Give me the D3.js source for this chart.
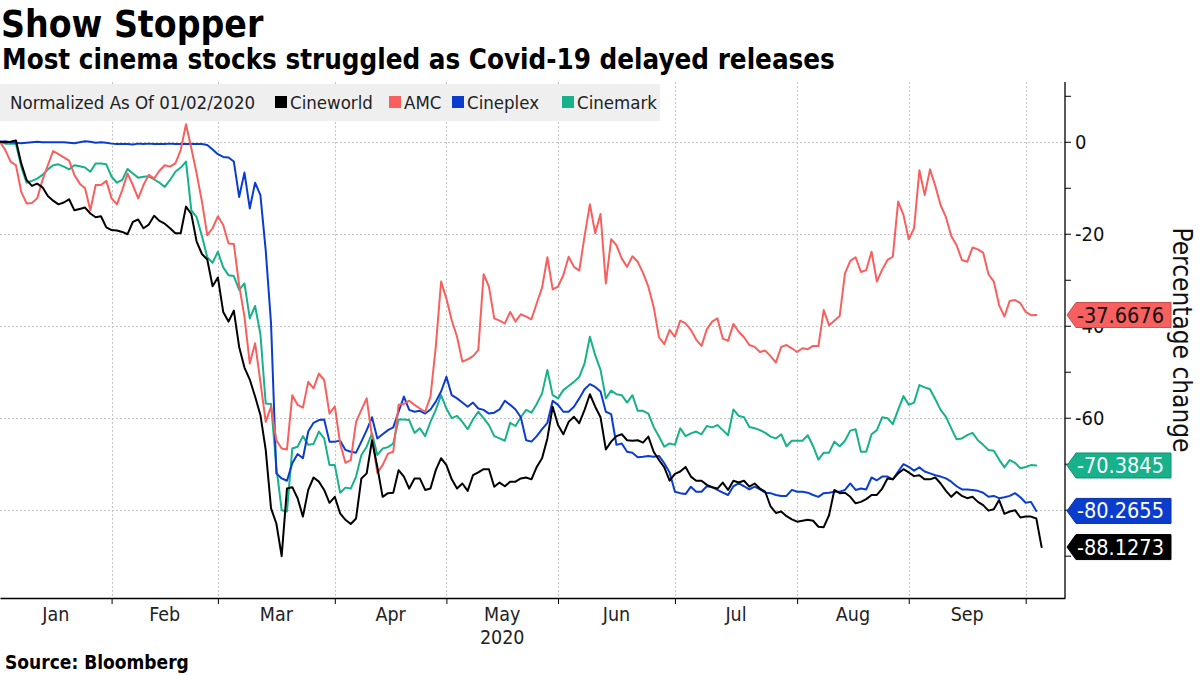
<!DOCTYPE html>
<html><head><meta charset="utf-8">
<script src="https://cdn.jsdelivr.net/npm/d3@7"></script>
<style>
body{margin:0;background:#fff}
svg{display:block}
text{font-family:"DejaVu Sans Condensed","DejaVu Sans",sans-serif}
</style>
</head><body>
<svg id="chart" width="1200" height="675"></svg>
<script>
// ---------------- DATA ----------------
const startDate = "2020-01-02";
const endDate = "2020-10-05";
const closedDays = ["2020-04-10"]; // days when every market was shut
const seriesNames = ["Cineworld", "AMC", "Cineplex", "Cinemark"];
const monthLabels = ["Jan","Feb","Mar","Apr","May","Jun","Jul","Aug","Sep"];
const yearLabel = "2020";
const yTickValues = [10,0,-10,-20,-30,-40,-50,-60,-70,-80,-90];
const yGridValues = [0,-20,-40,-60,-80];
const yLabelValues = [0,-20,-40,-60]; // -80 sits fully under the Cineplex tag in the reference

const cineworld = [0,-0.1,0,0.3,-4.7,-8.3,-9.6,-9.1,-9.9,-11.8,-12.8,-13.6,-13.2,-12.5,-14.9,-14.6,-14.3,-15.6,-16.4,-16.2,-18.6,-19.2,-19.3,-19.6,-20.1,-17.4,-16.9,-18.8,-18.0,-16.1,-17.2,-17.8,-18.8,
 -19.9,-19.9,-14.1,-15.7,-21.7,-24.4,-25.6,-31.4,-29.5,-37.0,-39.1,-36.7,-44.6,-49.1,-51.7,-55.4,-59.4,-67.0,-79.7,-83.0,-90.1,-75.4,-75.1,-77.5,-81.5,-75.7,-73.0,-73.9,-75.7,-78.5,-77.2,-80.8,-82.2,
 -83.1,-81.9,-73.2,-72.1,-64.9,-70.7,-77.2,-76.4,-76.3,-71.4,-72.8,-75.4,-73.2,-73.2,-75.7,-75.4,-71.4,-68.8,-70.3,-73.4,-75.4,-74.3,-75.9,-72.5,-71.9,-71.2,-71.2,-75.0,-74.1,-74.9,-73.9,-73.9,-73.2,
 -73.0,-73.4,-70.7,-68.8,-64.5,-57.6,-61.6,-63.6,-60.9,-59.8,-61.2,-58.3,-54.9,-57.6,-59.9,-66.9,-65.2,-64.0,-63.6,-64.9,-65.0,-64.9,-65.4,-64.1,-67.4,-69.2,-70.8,-73.7,-72.2,-71.7,-70.7,-72.8,-73.7,
 -73.7,-74.6,-75.1,-75.4,-74.1,-75.7,-73.7,-74.1,-73.7,-75.0,-74.3,-75.4,-76.1,-79.3,-80.7,-80.4,-81.4,-82.1,-82.6,-82.4,-82.2,-82.4,-83.7,-83.8,-81.2,-75.7,-76.4,-76.3,-77.2,-78.6,-78.3,-77.7,-76.8,
 -76.8,-75.4,-73.2,-73.4,-72.1,-71.2,-71.9,-72.7,-72.5,-73.4,-73.4,-73.0,-74.3,-75.9,-77.2,-76.1,-77.0,-77.5,-77.2,-78.3,-79.0,-80.2,-79.9,-77.9,-80.9,-80.4,-80.1,-81.7,-81.5,-81.5,-81.9,-88.1273];

const amc = [0,-1.8,-4.3,-5.1,-10.9,-13.4,-13.3,-12.3,-8.3,-5.1,-2.0,-2.7,-3.4,-4.1,-7.2,-9.1,-10.1,-14.9,-9.4,-9.4,-8.5,-12.3,-13.6,-10.5,-6.9,-9.4,-12.3,-9.4,-7.2,-8.0,-6.3,-5.1,-5.4,
 -4.7,-1.8,3.8,-1.4,-6.9,-13.0,-20.3,-18.8,-16.2,-18.1,-22.1,-22.2,-31.2,-38.0,-48.2,-43.8,-52.2,-60.9,-57.6,-64.9,-66.7,-66.9,-55.1,-57.2,-57.8,-52.2,-53.6,-50.4,-51.8,-59.1,-57.5,-65.6,-69.8,
 -69.2,-60.9,-58.3,-55.8,-64.1,-72.0,-70.3,-67.8,-67.4,-57.2,-57.0,-56.3,-57.2,-58.0,-58.7,-55.4,-44.6,-30.4,-34.1,-38.8,-42.4,-47.8,-47.3,-46.6,-45.3,-28.8,-31.5,-38.4,-38.9,-39.5,-37.0,-39.1,-37.5,
 -38.0,-38.6,-35.1,-31.7,-25.1,-32.1,-31.5,-29.0,-25.0,-27.2,-28.0,-20.5,-13.6,-19.9,-15.7,-30.8,-21.2,-22.5,-25.4,-27.2,-24.9,-26.1,-28.5,-31.5,-35.9,-42.5,-44.0,-40.9,-42.4,-38.9,-39.5,-40.9,-43.0,
 -44.4,-40.8,-39.1,-38.4,-42.8,-43.3,-39.6,-41.3,-42.5,-44.2,-44.6,-45.7,-45.4,-46.6,-48.0,-44.6,-44.2,-44.9,-45.7,-44.9,-45.1,-44.4,-44.4,-36.6,-39.9,-38.9,-37.9,-28.6,-25.9,-25.1,-28.3,-27.9,-23.9,
 -30.4,-27.8,-25.7,-25.0,-13.0,-15.9,-21.2,-18.8,-6.2,-11.6,-6.0,-9.6,-13.8,-16.4,-20.5,-22.5,-25.7,-26.1,-23.0,-23.4,-24.1,-28.8,-30.4,-35.5,-38.0,-34.6,-34.4,-35.1,-37.0,-37.7,-37.6676];

const cineplex = [0,0.1,-0.1,-0.2,-0.3,-0.2,-0.1,0,-0.1,-0.1,-0.1,-0.1,-0.1,-0.2,-0.3,-0.1,0.1,0,-0.2,-0.1,-0.2,-0.4,-0.5,-0.5,-0.5,-0.6,-0.4,-0.5,-0.4,-0.5,-0.5,-0.5,-0.4,
 -0.5,-0.5,-0.5,-0.5,-0.5,-0.5,-0.7,-1.7,-2.7,-3.3,-3.4,-4.3,-12.0,-6.7,-14.5,-8.9,-11.6,-23.6,-39.5,-72.1,-73.2,-73.7,-69.9,-67.9,-68.8,-63.0,-61.1,-60.5,-60.4,-65.2,-65.2,-65.0,-67.0,
 -67.4,-67.6,-65.2,-62.7,-59.9,-64.5,-63.6,-62.7,-62.1,-58.7,-55.4,-58.3,-58.7,-58.5,-59.1,-58.2,-56.5,-54.3,-51.1,-55.1,-55.8,-56.7,-57.6,-56.7,-58.0,-58.3,-59.1,-58.9,-58.2,-56.3,-57.2,-58.2,-59.9,
 -64.9,-65.2,-64.0,-62.5,-61.1,-56.3,-57.2,-58.7,-58.7,-57.6,-55.8,-53.8,-52.7,-53.3,-54.3,-58.7,-59.2,-65.9,-65.6,-67.4,-67.6,-68.6,-68.5,-68.3,-68.5,-68.3,-69.9,-71.9,-76.1,-76.4,-76.6,-75.0,-76.1,
 -76.1,-74.9,-75.1,-75.7,-76.3,-76.8,-74.9,-74.3,-74.9,-75.6,-75.0,-75.6,-76.3,-76.4,-76.8,-77.0,-77.0,-75.7,-76.1,-76.1,-76.3,-76.8,-77.2,-76.4,-76.3,-76.1,-76.1,-75.7,-74.3,-75.7,-75.4,-75.6,-73.0,
 -73.6,-72.8,-72.8,-73.4,-71.7,-70.1,-70.7,-71.5,-70.8,-71.7,-72.1,-72.5,-72.8,-73.2,-73.9,-74.9,-75.6,-75.6,-75.7,-75.9,-76.3,-77.2,-77.0,-77.5,-77.3,-77.0,-76.4,-77.3,-78.5,-78.3,-80.2655];

const cinemark = [0,-0.4,-0.4,-0.5,-5.4,-8.9,-8.5,-8.0,-7.2,-6.0,-5.1,-4.9,-5.4,-6.0,-5.1,-5.3,-5.6,-6.5,-4.7,-4.7,-4.9,-7.6,-8.9,-8.3,-5.9,-6.9,-7.8,-7.6,-7.5,-8.2,-8.9,-9.8,-8.3,
 -6.5,-5.6,-4.3,-14.9,-16.4,-20.5,-25.1,-26.3,-23.9,-27.3,-29.0,-29.2,-32.2,-30.8,-38.4,-35.7,-41.8,-56.9,-57.0,-70.7,-80.1,-80.4,-66.7,-66.3,-64.0,-65.9,-65.7,-63.0,-64.5,-70.3,-70.3,-76.3,-75.2,
 -75.4,-72.8,-68.1,-66.3,-63.4,-68.1,-66.7,-66.4,-65.6,-60.4,-60.4,-60.5,-63.3,-62.3,-64.0,-60.9,-58.3,-55.1,-58.0,-60.1,-59.6,-60.9,-62.5,-60.4,-58.7,-60.1,-61.6,-64.0,-64.5,-65.0,-61.1,-61.8,-59.9,
 -58.3,-58.9,-57.0,-54.7,-49.6,-55.1,-55.8,-54.0,-53.1,-52.2,-51.1,-48.2,-42.4,-46.4,-49.6,-55.8,-54.1,-54.9,-55.1,-56.7,-55.1,-58.5,-58.5,-59.1,-62.0,-64.1,-66.3,-65.6,-65.9,-62.3,-64.0,-63.4,-63.0,
 -63.6,-61.8,-62.1,-61.6,-62.7,-63.8,-58.2,-59.6,-59.9,-62.0,-62.3,-62.7,-63.3,-64.1,-64.5,-63.6,-66.2,-65.0,-65.0,-65.0,-63.8,-66.2,-69.1,-67.6,-67.6,-65.2,-66.2,-65.0,-62.8,-62.5,-67.4,-67.4,-63.6,
 -62.7,-59.9,-60.1,-61.4,-58.3,-55.3,-57.2,-56.7,-52.9,-53.4,-53.8,-56.0,-58.3,-59.8,-62.3,-64.7,-64.5,-63.8,-63.3,-64.9,-65.9,-67.0,-67.2,-69.1,-70.8,-69.2,-69.8,-71.0,-70.7,-70.3,-70.3845];

const seriesValues = [cineworld, amc, cineplex, cinemark];
const seriesColors = ["#000000", "#f7605e", "#0a3dce", "#17b18b"];
const tagTextColors = ["#ffffff", "#111111", "#ffffff", "#ffffff"];

// ---------------- CALENDAR (trading days) ----------------
const parse = d3.utcParse("%Y-%m-%d"), fmt = d3.utcFormat("%Y-%m-%d");
const dates = d3.utcDay.range(parse(startDate), d3.utcDay.offset(parse(endDate), 1))
  .filter(d => d.getUTCDay() !== 0 && d.getUTCDay() !== 6 && !closedDays.includes(fmt(d)));
const monthEnds = [];
for (let i = 0; i < dates.length - 1; i++) if (dates[i].getUTCMonth() !== dates[i+1].getUTCMonth()) monthEnds.push(i);

// ---------------- LAYOUT ----------------
const plotLeft = 0, plotRight = 1065, plotTop = 82, plotBottom = 598;
const svg = d3.select("#chart");

const x = d3.scaleLinear().domain([0, 200.4]).range([plotLeft, plotRight]);
const y = d3.scaleLinear().domain([-99.2, 13]).range([plotBottom, plotTop]);

// Title
svg.append("text").attr("x", 1).attr("y", 37).attr("font-size", 37).attr("font-weight", "bold").attr("fill", "#000").text("Show Stopper");
svg.append("text").attr("x", 2).attr("y", 69).attr("font-size", 27.5).attr("font-weight", "bold").attr("fill", "#000").text("Most cinema stocks struggled as Covid-19 delayed releases");

// Gridlines
const grid = svg.append("g").attr("stroke", "#c4c4c4").attr("stroke-width", 1).attr("stroke-dasharray", "2,2");
grid.selectAll("line.h").data(yGridValues).join("line")
  .attr("x1", plotLeft).attr("x2", plotRight).attr("y1", d => Math.round(y(d)) + 0.5).attr("y2", d => Math.round(y(d)) + 0.5);
grid.selectAll("line.v").data(monthEnds).join("line")
  .attr("x1", d => Math.round(x(d)) + 0.5).attr("x2", d => Math.round(x(d)) + 0.5).attr("y1", plotTop).attr("y2", plotBottom);

// Legend band
const leg = svg.append("g");
leg.append("rect").attr("x", 0).attr("y", 84).attr("width", 660).attr("height", 37).attr("fill", "#efefef");
leg.append("text").attr("x", 10).attr("y", 108.5).attr("font-size", 18.5).attr("fill", "#222").text("Normalized As Of 01/02/2020");
const legX = [275, 389, 452, 562];
seriesNames.forEach((n, i) => {
  leg.append("rect").attr("x", legX[i]).attr("y", 96).attr("width", 12).attr("height", 12).attr("fill", seriesColors[i]);
  leg.append("text").attr("x", legX[i] + 15).attr("y", 108.5).attr("font-size", 18.5).attr("fill", "#222").text(n);
});

// Lines
const line = d3.line().x((d, i) => x(i)).y(d => y(d)).curve(d3.curveLinear);
const drawOrder = [3, 2, 1, 0];
drawOrder.forEach(i => {
  svg.append("path").datum(seriesValues[i]).attr("d", line)
    .attr("fill", "none").attr("stroke", seriesColors[i]).attr("stroke-width", 2)
    .attr("stroke-linejoin", "round").attr("stroke-linecap", "round");
});

// X axis
const xAxis = d3.axisBottom(x).tickValues(monthEnds).tickFormat("").tickSizeInner(6).tickSizeOuter(0);
const gx = svg.append("g").attr("transform", `translate(0,${plotBottom})`).call(xAxis);
gx.select(".domain").attr("stroke", "#000").attr("stroke-width", 1.3);
gx.selectAll(".tick line").attr("stroke", "#000");
const bounds = [0].concat(monthEnds);
svg.append("g").selectAll("text").data(monthLabels).join("text")
  .attr("x", (d, i) => x((bounds[i] + bounds[i+1]) / 2)).attr("y", 621)
  .attr("text-anchor", "middle").attr("font-size", 19.5).attr("fill", "#222").text(d => d);
svg.append("text").attr("x", x((bounds[4] + bounds[5]) / 2)).attr("y", 644).attr("text-anchor", "middle")
  .attr("font-size", 19.5).attr("fill", "#222").text(yearLabel);

// Y axis (right)
const yAxis = d3.axisRight(y).tickValues(yTickValues)
  .tickFormat(d => yLabelValues.includes(d) ? d3.format("d")(d).replace("−", "-") : "")
  .tickSizeInner(6).tickSizeOuter(0).tickPadding(4);
const gy = svg.append("g").attr("transform", `translate(${plotRight},0)`).call(yAxis);
gy.select(".domain").attr("stroke", "#000").attr("stroke-width", 1.3).attr("d", `M0,${plotTop}V${plotBottom}`);
gy.selectAll(".tick line").attr("stroke", "#000");
gy.selectAll(".tick text").attr("font-size", 20).attr("fill", "#111").attr("font-family", "'DejaVu Sans Condensed','DejaVu Sans',sans-serif");

// Axis title
svg.append("text").attr("transform", "translate(1173,340) rotate(90)").attr("text-anchor", "middle")
  .attr("font-size", 26).attr("fill", "#111").text("Percentage change");

// Last-value tags
seriesValues.forEach((vals, i) => {
  const v = vals[vals.length - 1];
  const yc = y(v), x0 = plotRight + 2, h = 12.5, w = 104;
  const g = svg.append("g");
  g.append("path").attr("d", `M${x0},${yc}L${x0+9},${yc-h}H${x0+w}V${yc+h}H${x0+9}Z`)
    .attr("fill", seriesColors[i]).attr("stroke", i === 0 ? "#000" : d3.color(seriesColors[i]).darker(0.6)).attr("stroke-width", 1);
  g.append("text").attr("x", x0 + 10).attr("y", yc + 7.5).attr("font-size", 21.5)
    .attr("fill", tagTextColors[i]).text(d3.format(".4f")(v).replace("−", "-"));
});

// Source
svg.append("text").attr("x", 5).attr("y", 669).attr("font-size", 19).attr("font-weight", "bold").attr("fill", "#000").text("Source: Bloomberg");
</script>
</body></html>
